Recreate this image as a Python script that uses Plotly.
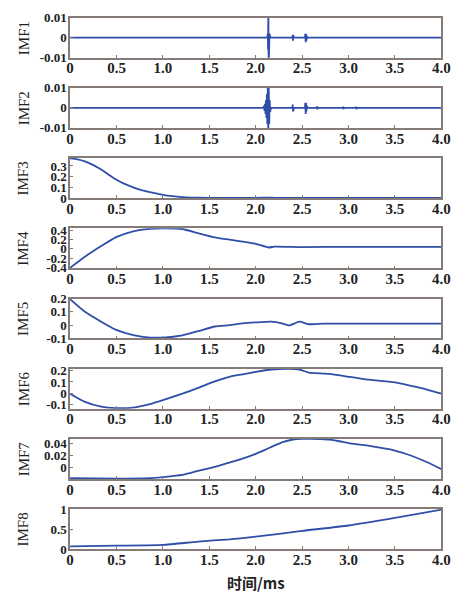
import plotly.graph_objects as go

# ---------------- data ----------------
imf1_t = [0, 2.125, 2.13, 2.133, 2.136, 2.139, 2.142, 2.145, 2.148, 2.152, 2.16,
          2.395, 2.398, 2.401, 2.404, 2.407, 2.41,
          2.53, 2.534, 2.538, 2.542, 2.546, 2.55, 2.56, 4.0]
imf1_v = [0, 0, 0.002, -0.006, 0.014, -0.014, 0.008, -0.004, 0.002, 0, 0,
          0, 0.0015, -0.0015, 0.0012, -0.001, 0,
          0, 0.002, -0.0023, 0.002, -0.0015, 0.0008, 0, 0]

imf2_t = [0, 2.08, 2.09, 2.095, 2.10, 2.105, 2.11, 2.115, 2.12, 2.125, 2.13, 2.135,
          2.14, 2.145, 2.15, 2.155, 2.165,
          2.395, 2.398, 2.401, 2.404, 2.407, 2.41,
          2.53, 2.534, 2.538, 2.542, 2.546, 2.55, 2.56,
          2.655, 2.66, 2.665, 2.67, 2.935, 2.94, 2.945, 2.95, 3.075, 3.08, 3.085, 3.09, 4.0]
imf2_v = [0, 0, 0.001, -0.0015, 0.002, -0.003, 0.004, -0.005, 0.007, -0.008, 0.012, -0.012,
          0.011, -0.008, 0.004, -0.002, 0,
          0, 0.0017, -0.0017, 0.0014, -0.001, 0,
          0, 0.0025, -0.003, 0.0025, -0.0018, 0.001, 0,
          0, 0.0007, -0.0007, 0, 0, 0.0006, -0.0006, 0, 0, 0.0006, -0.0006, 0, 0]

imf3_t = [0, 0.08, 0.16, 0.25, 0.335, 0.41, 0.49, 0.58, 0.68, 0.77, 0.86, 1.0, 1.1, 1.21, 1.3, 1.38, 1.6, 2.0, 2.15, 2.2, 2.5, 3.0, 4.0]
imf3_v = [0.37, 0.362, 0.343, 0.308, 0.267, 0.222, 0.176, 0.135, 0.10, 0.075, 0.055, 0.03, 0.018, 0.009, 0.005, 0.003, 0.002, 0.002, 0.004, 0.002, 0.002, 0.002, 0.002]

imf4_t = [0, 0.16, 0.335, 0.49, 0.68, 0.86, 1.0, 1.21, 1.38, 1.56, 1.717, 2.0, 2.14, 2.2, 2.5, 3.0, 3.5, 4.0]
imf4_v = [-0.41, -0.17, 0.06, 0.25, 0.38, 0.435, 0.445, 0.43, 0.34, 0.25, 0.2, 0.11, 0.03, 0.05, 0.04, 0.045, 0.045, 0.045]

imf5_t = [0, 0.16, 0.335, 0.49, 0.68, 0.86, 1.0, 1.21, 1.38, 1.56, 1.717, 1.857, 2.0, 2.17, 2.28, 2.36, 2.47, 2.57, 2.73, 3.0, 3.5, 4.0]
imf5_v = [0.195, 0.10, 0.026, -0.033, -0.074, -0.093, -0.093, -0.076, -0.045, -0.01, 0.0, 0.014, 0.021, 0.026, 0.014, -0.002, 0.026, 0.007, 0.012, 0.012, 0.011, 0.012]

imf6_t = [0, 0.16, 0.335, 0.49, 0.68, 0.86, 1.0, 1.21, 1.38, 1.56, 1.717, 1.857, 2.0, 2.17, 2.36, 2.47, 2.57, 2.73, 2.83, 3.0, 3.17, 3.5, 3.74, 4.0]
imf6_v = [-0.003, -0.075, -0.117, -0.13, -0.126, -0.095, -0.06, -0.003, 0.048, 0.105, 0.146, 0.168, 0.19, 0.21, 0.215, 0.21, 0.183, 0.174, 0.168, 0.146, 0.125, 0.097, 0.054, -0.003]

imf7_t = [0, 0.49, 0.86, 1.0, 1.21, 1.38, 1.56, 1.717, 1.857, 2.0, 2.1, 2.2, 2.3, 2.4, 2.5, 2.6, 2.7, 2.8, 2.9, 3.0, 3.21, 3.5, 3.67, 3.84, 4.0]
imf7_v = [-0.0167, -0.0175, -0.0167, -0.015, -0.0115, -0.005, 0.0016, 0.0085, 0.0148, 0.0227, 0.029, 0.036, 0.042, 0.0458, 0.0468, 0.0468, 0.0465, 0.0455, 0.043, 0.040, 0.036, 0.028, 0.02, 0.0095, -0.002]

imf8_t = [0, 0.5, 1.0, 1.38, 1.717, 2.0, 2.5, 3.0, 3.5, 4.0]
imf8_v = [0.07, 0.085, 0.105, 0.187, 0.244, 0.31, 0.455, 0.59, 0.78, 0.985]

series = [(imf1_t, imf1_v), (imf2_t, imf2_v), (imf3_t, imf3_v), (imf4_t, imf4_v),
          (imf5_t, imf5_v), (imf6_t, imf6_v), (imf7_t, imf7_v), (imf8_t, imf8_v)]
names = ["IMF1", "IMF2", "IMF3", "IMF4", "IMF5", "IMF6", "IMF7", "IMF8"]
spline = [False, False, True, True, True, True, True, True]

y_ranges = [[-0.01, 0.01], [-0.01, 0.01], [0, 0.373], [-0.42, 0.445], [-0.1, 0.2],
            [-0.135, 0.217], [-0.0178, 0.0468], [0, 1]]
y_tickvals = [[-0.01, 0, 0.01], [-0.01, 0, 0.01], [0, 0.1, 0.2, 0.3],
              [-0.4, -0.2, 0, 0.2, 0.4], [-0.1, 0, 0.1, 0.2], [-0.1, 0, 0.1, 0.2],
              [0, 0.02, 0.04], [0, 0.5, 1]]
y_ticktext = [["-0.01", "0", "0.01"], ["-0.01", "0", "0.01"], ["0", "0.1", "0.2", "0.3"],
              ["-0.4", "-0.2", "0", "0.2", "0.4"], ["-0.1", "0", "0.1", "0.2"],
              ["-0.1", "0", "0.1", "0.2"], ["0", "0.02", "0.04"], ["0", "0.5", "1"]]
x_tickvals = [0, 0.5, 1.0, 1.5, 2.0, 2.5, 3.0, 3.5, 4.0]
x_ticktext = ["0", "0.5", "1.0", "1.5", "2.0", "2.5", "3.0", "3.5", "4.0"]
x_title = "时间/ms"

# ---------------- layout ----------------
W, H = 464, 599
x0, x1 = 68 / W, 450 / W
frame = "#857c77"
blue = "#2f4ea8"
txt = "#222222"
serif = "Times New Roman"

fig = go.Figure()
layout = dict(width=W, height=H, margin=dict(l=0, r=0, t=0, b=0),
              paper_bgcolor="white", plot_bgcolor="white", showlegend=False,
              annotations=[])

for i, ((t, v), nm) in enumerate(zip(series, names)):
    k = "" if i == 0 else str(i + 1)
    top = 11 + 72 * i
    bot = 52 + 72 * i
    fig.add_trace(go.Scatter(x=t, y=v, mode="lines",
                             line=dict(color=blue, width=1.8,
                                       shape="spline" if spline[i] else "linear",
                                       smoothing=0.5),
                             xaxis="x" + k, yaxis="y" + k, cliponaxis=True,
                             hoverinfo="skip"))
    common = dict(showline=True, mirror=True, linecolor=frame, linewidth=1.5,
                  ticks="inside", ticklen=3, tickcolor=frame, tickwidth=1,
                  showgrid=False, zeroline=False)
    layout["xaxis" + k] = dict(common, domain=[x0, x1], range=[0, 4],
                               anchor="y" + k, tickvals=x_tickvals,
                               ticktext=x_ticktext, ticklabelstandoff=-4,
                               tickfont=dict(family=serif, size=15, color=txt,
                                             weight="bold"))
    layout["yaxis" + k] = dict(common, domain=[1 - bot / H, 1 - top / H],
                               range=y_ranges[i], anchor="x" + k,
                               tickvals=y_tickvals[i], ticktext=y_ticktext[i],
                               ticklabelstandoff=-1,
                               tickfont=dict(family=serif, size=13, color=txt,
                                             weight="bold"))
    layout["annotations"].append(dict(
        text=nm, x=20 / W, y=1 - (top + bot) / 2 / H, xref="paper", yref="paper",
        xanchor="center", yanchor="middle", textangle=-90, showarrow=False,
        font=dict(family=serif, size=15, color=txt)))

layout["annotations"].append(dict(
    text=x_title, x=259 / W, y=1 - 590 / H, xref="paper", yref="paper",
    xanchor="center", yanchor="middle", showarrow=False,
    font=dict(family="Noto Sans CJK SC", size=15, color=txt, weight="bold")))

fig.update_layout(**layout)
fig.write_html("out.html")
